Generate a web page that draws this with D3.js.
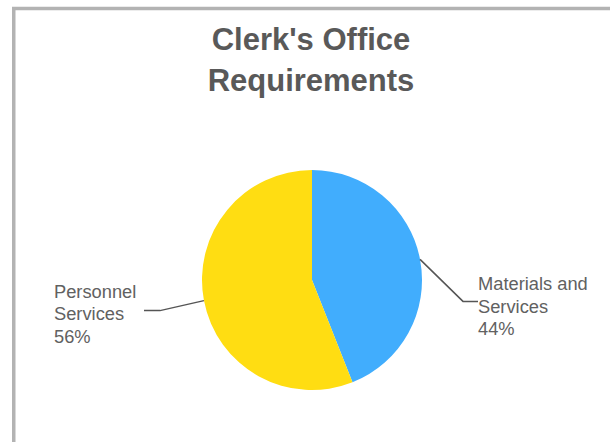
<!DOCTYPE html>
<html>
<head>
<meta charset="utf-8">
<script src="https://cdn.jsdelivr.net/npm/d3@7"></script>
<style>
  html, body { margin: 0; padding: 0; background: #fff; }
  svg { display: block; }
</style>
</head>
<body>
<svg id="chart" width="610" height="442"></svg>
<script>
// Budget split for the Clerk's Office
const categories = ["Materials and Services", "Personnel Services"];
const labelLines = [["Materials and", "Services"], ["Personnel", "Services"]];
const shares = [44, 56];
const colors = ["#41adfd", "#ffdd12"];
const titleLines = ["Clerk's Office", "Requirements"];

const svg = d3.select("#chart");

// frame
svg.append("rect")
  .attr("x", 13.75).attr("y", 8.5)
  .attr("width", 610).attr("height", 460)
  .attr("fill", "#fff")
  .attr("stroke", "#b3b3b3").attr("stroke-width", 3.5);

// title
const title = svg.append("text")
  .attr("text-anchor", "middle")
  .attr("font-family", "Liberation Sans, Arial, sans-serif")
  .attr("font-weight", "bold")
  .attr("font-size", 31)
  .attr("fill", "#595959");
titleLines.forEach((t, i) => {
  title.append("tspan").attr("x", 311).attr("y", 50 + i * 41).text(t);
});

const cx = 312, cy = 280, r = 110;
const g = svg.append("g").attr("transform", `translate(${cx},${cy})`);

const data = categories.map((c, i) => ({ name: c, value: shares[i], color: colors[i], lines: labelLines[i] }));
const pie = d3.pie().value(d => d.value).sort(null);
const arcs = pie(data);
const arc = d3.arc().innerRadius(0).outerRadius(r);
const edge = d3.arc().innerRadius(r).outerRadius(r);

g.selectAll("path.slice")
  .data(arcs)
  .join("path")
  .attr("class", "slice")
  .attr("d", arc)
  .attr("fill", d => d.data.color);

// leader lines and labels
const total = d3.sum(shares);
arcs.forEach(a => {
  const [ex, ey] = edge.centroid(a);
  const mid = (a.startAngle + a.endAngle) / 2;
  const right = Math.sin(mid) > 0;
  const elbow = right ? [151, ey + 42] : [-152, ey + 10];
  const end = right ? [166, elbow[1]] : [-168, elbow[1]];
  g.append("polyline")
    .attr("points", [[ex, ey], elbow, end].map(p => p.join(",")).join(" "))
    .attr("fill", "none")
    .attr("stroke", "#555")
    .attr("stroke-width", 1.5);

  const tx = right ? 166 : -258;
  const baseY = right ? ey + 31 : ey - 3;
  const txt = g.append("text")
    .attr("font-family", "Liberation Sans, Arial, sans-serif")
    .attr("font-size", 18.3)
    .attr("fill", "#616161");
  const lines = a.data.lines.concat([Math.round(a.data.value / total * 100) + "%"]);
  lines.forEach((l, i) => {
    txt.append("tspan").attr("x", tx).attr("y", baseY + i * 22.5).text(l);
  });
});
</script>
</body>
</html>
